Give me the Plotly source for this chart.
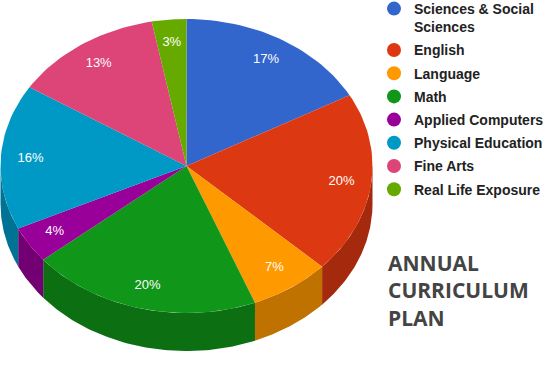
import numpy as np
import plotly.graph_objects as go

categories = ["Sciences & Social Sciences", "English", "Language", "Math",
              "Applied Computers", "Physical Education", "Fine Arts", "Real Life Exposure"]
legend_labels = ["Sciences & Social<br>Sciences", "English", "Language", "Math",
                 "Applied Computers", "Physical Education", "Fine Arts", "Real Life Exposure"]
values = [17, 20, 7, 20, 4, 16, 13, 3]
colors = ["#3366cc", "#dc3912", "#ff9900", "#109618",
          "#990099", "#0099c6", "#dd4477", "#66aa00"]
title_text = "ANNUAL<br>CURRICULUM<br>PLAN"

W, H = 548, 371
CX, CY, RX, RY, DEPTH = 186.5, 166, 186, 147, 38
LABEL_R = 0.84


def darker(hx, f=0.75):
    hx = hx.lstrip("#")
    r, g, b = (int(hx[i:i + 2], 16) for i in (0, 2, 4))
    return "#%02x%02x%02x" % (int(r * f), int(g * f), int(b * f))


def ex(t):
    return CX + RX * np.sin(t)


def ey(t):
    return CY - RY * np.cos(t)


fig = go.Figure()
total = float(sum(values))
bounds = np.concatenate([[0], np.cumsum(values)]) / total * 2 * np.pi

# side walls (front half)
for i, v in enumerate(values):
    a0, a1 = bounds[i], bounds[i + 1]
    lo, hi = max(a0, np.pi / 2), min(a1, 3 * np.pi / 2)
    if hi > lo:
        t = np.linspace(lo, hi, 80)
        x = ex(t)
        y = ey(t)
        fig.add_trace(go.Scatter(
            x=np.concatenate([x, x[::-1]]),
            y=np.concatenate([y, (y + DEPTH)[::-1]]),
            fill="toself", fillcolor=darker(colors[i]), mode="lines",
            line=dict(width=0, color=darker(colors[i])), showlegend=False,
            hoverinfo="skip"))

# top faces
for i, v in enumerate(values):
    a0, a1 = bounds[i], bounds[i + 1]
    t = np.linspace(a0, a1, max(10, int(200 * v / total)))
    x = np.concatenate([[CX], ex(t), [CX]])
    y = np.concatenate([[CY], ey(t), [CY]])
    fig.add_trace(go.Scatter(
        x=x, y=y, fill="toself", fillcolor=colors[i], mode="lines",
        line=dict(width=0, color=colors[i]), showlegend=False,
        name=categories[i], hoverinfo="name"))

# slice labels
mids = (bounds[:-1] + bounds[1:]) / 2
fig.add_trace(go.Scatter(
    x=CX + LABEL_R * RX * np.sin(mids), y=CY - LABEL_R * RY * np.cos(mids),
    mode="text", text=["%d%%" % round(100 * v / total) for v in values],
    textfont=dict(family="Arial", size=13, color="white"),
    showlegend=False, hoverinfo="skip"))

# legend entries
for i, lab in enumerate(legend_labels):
    fig.add_trace(go.Scatter(
        x=[None], y=[None], mode="markers", name="<b>%s</b>" % lab,
        legendgroup="g%d" % i,
        marker=dict(symbol="circle", size=14, color=colors[i])))

fig.add_annotation(
    x=386 / W, y=1 - 247 / H, xref="paper", yref="paper",
    xanchor="left", yanchor="top", align="left", showarrow=False,
    text="<b>%s</b>" % title_text,
    font=dict(family="Open Sans", size=21, color="#444444"))

fig.update_layout(
    width=W, height=H, margin=dict(l=0, r=0, t=0, b=0, autoexpand=False),
    paper_bgcolor="white", plot_bgcolor="white",
    xaxis=dict(range=[0, W], visible=False, fixedrange=True),
    yaxis=dict(range=[H, 0], visible=False, fixedrange=True),
    showlegend=True,
    legend=dict(x=374 / W, y=1 + 7 / H, xanchor="left", yanchor="top",
                valign="top", itemwidth=30, tracegroupgap=2, maxheight=1.0,
                bgcolor="rgba(0,0,0,0)",
                font=dict(family="Arial", size=14, color="#222222")),
)

fig.write_html("out.html", post_script="document.body.style.margin='0';",
               config={"displayModeBar": False})
